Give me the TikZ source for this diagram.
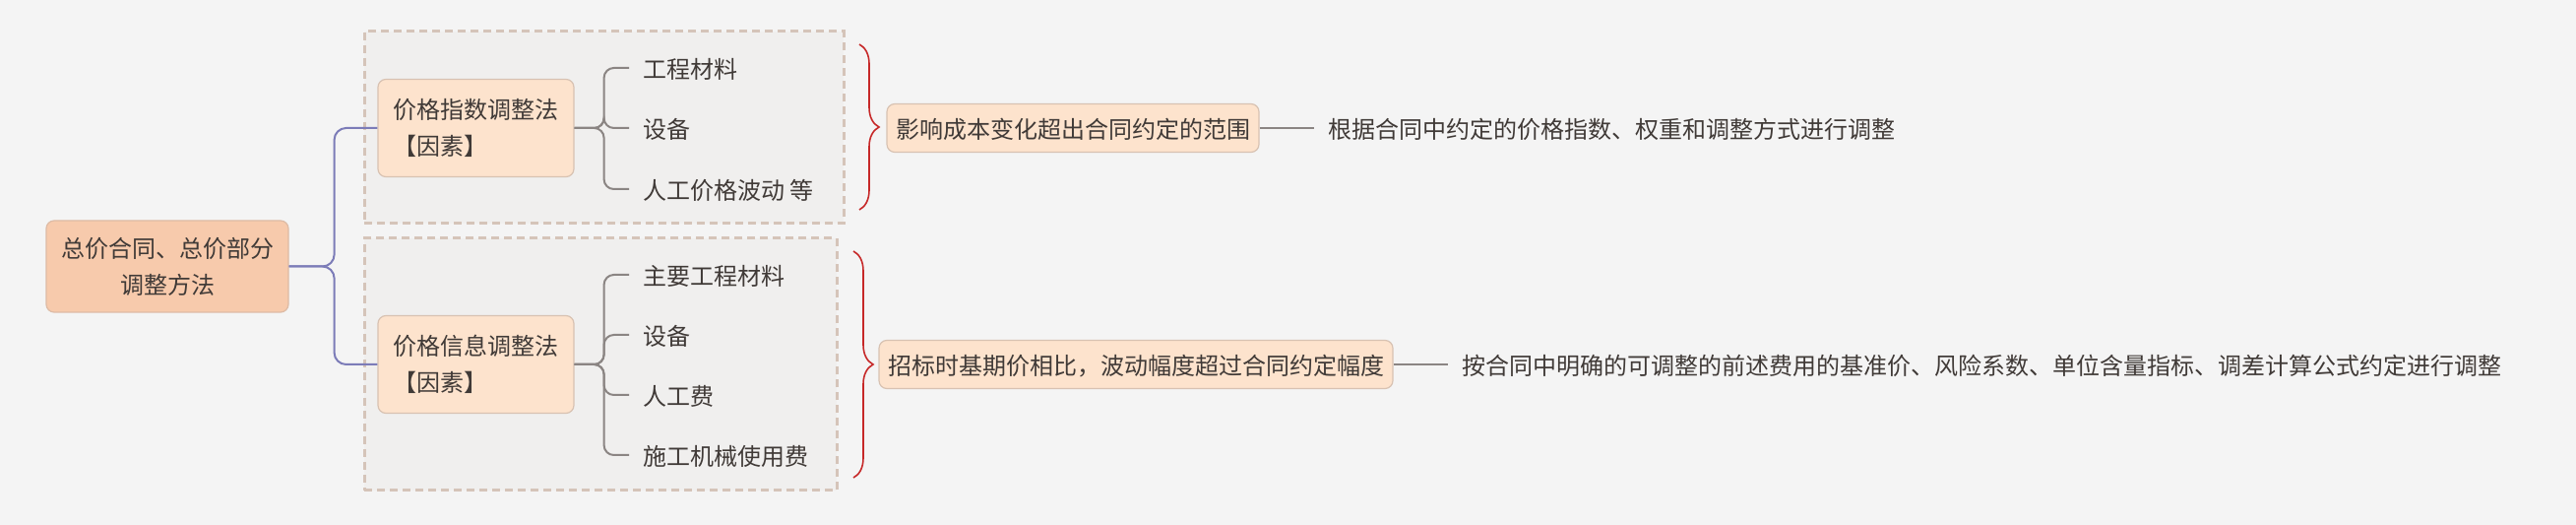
\documentclass[tikz,border=0pt]{standalone}
\usepackage{fontspec}
\setmainfont{Noto Sans CJK SC}
\usepackage{xcolor}
\usetikzlibrary{positioning,calc,decorations.pathreplacing}

\definecolor{bgGray}{HTML}{F4F4F4}
\definecolor{groupFill}{HTML}{F0EFEE}
\definecolor{groupLine}{HTML}{D5C4B9}
\definecolor{rootFill}{HTML}{F7CAAC}
\definecolor{rootLine}{HTML}{DDBBA5}
\definecolor{subFill}{HTML}{FDE3CD}
\definecolor{subLine}{HTML}{D8C2B2}
\definecolor{trunkPurple}{HTML}{7C7CB8}
\definecolor{twigGray}{HTML}{8B8583}
\definecolor{braceRed}{HTML}{C62828}
\definecolor{txtGray}{HTML}{403A37}

\begin{document}
\begin{tikzpicture}[x=0.5pt, y=-0.5pt, font=\fontsize{12}{18.5}\selectfont, text=txtGray,
  rootbox/.style={draw=rootLine, fill=rootFill, rounded corners=4pt, line width=0.6pt, align=center, minimum width=123pt, minimum height=46.5pt, inner sep=0pt},
  methodbox/.style={draw=subLine, fill=subFill, rounded corners=4pt, line width=0.6pt, align=left, minimum width=99.5pt, minimum height=49.5pt, inner sep=0pt},
  condbox/.style={draw=subLine, fill=subFill, rounded corners=4pt, line width=0.6pt, minimum height=24.5pt, inner xsep=4.5pt, inner ysep=0pt, text height=1.05em, text depth=0pt},
  groupbox/.style={draw=groupLine, fill=groupFill, line width=1.5pt, dash pattern=on 4pt off 2.5pt},
  factor/.style={anchor=west, inner xsep=7pt, inner ysep=0pt, text height=1.05em, text depth=0pt},
  result/.style={anchor=west, inner xsep=7pt, inner ysep=0pt, text height=1.05em, text depth=0pt},
  trunk/.style={draw=trunkPurple, line width=1pt, rounded corners=6pt},
  twig/.style={draw=twigGray, line width=1pt, rounded corners=5pt},
  bracket/.style={draw=braceRed, line width=0.8pt, decorate, decoration={brace, amplitude=10pt}}]

  \fill[bgGray] (0,0) rectangle (2617,533);
  \useasboundingbox (0,0) rectangle (2617,533);

  % dashed group frames
  \node[groupbox, minimum width=243.5pt, minimum height=97.5pt] (gA) at (613.5,129.5) {};
  \node[groupbox, minimum width=240pt, minimum height=128pt] (gB) at (610,370) {};

  % root topic
  \node[rootbox] (root) at (170,270.5) {总价合同、总价部分\\调整方法};

  % price index method and its factors
  \node[methodbox] (fA) at (483.5,130) {价格指数调整法\\【因素】};
  \node[factor] (fA1) at (639,69) {工程材料};
  \node[factor] (fA2) at (639,130) {设备};
  \node[factor] (fA3) at (639,192) {人工价格波动 等};

  % price information method and its factors
  \node[methodbox] (fB) at (483.5,370) {价格信息调整法\\【因素】};
  \node[factor] (fB1) at (639,279) {主要工程材料};
  \node[factor] (fB2) at (639,340) {设备};
  \node[factor] (fB3) at (639,401) {人工费};
  \node[factor] (fB4) at (639,462) {施工机械使用费};

  \draw[trunk] (root.east) -- ++(46,0) |- (fA.west);
  \draw[trunk] (root.east) -- ++(46,0) |- (fB.west);
  \foreach \i in {1,2,3} \draw[twig] (fA.east) -- ++(30,0) |- (fA\i.west);
  \foreach \i in {1,2,3,4} \draw[twig] (fB.east) -- ++(30,0) |- (fB\i.west);

  % conditions and how to adjust
  \draw[bracket] (873,45) -- (873,213);
  \node[condbox] (cA) at (1090,130) {影响成本变化超出合同约定的范围};
  \node[result] (rA) at (1335,130) {根据合同中约定的价格指数、权重和调整方式进行调整};
  \draw[twig] (cA.east) -- (rA.west);

  \draw[bracket] (867,255) -- (867,485);
  \node[condbox] (cB) at (1154,370) {招标时基期价相比，波动幅度超过合同约定幅度};
  \node[result] (rB) at (1471,370) {按合同中明确的可调整的前述费用的基准价、风险系数、单位含量指标、调差计算公式约定进行调整};
  \draw[twig] (cB.east) -- (rB.west);
\end{tikzpicture}
\end{document}
